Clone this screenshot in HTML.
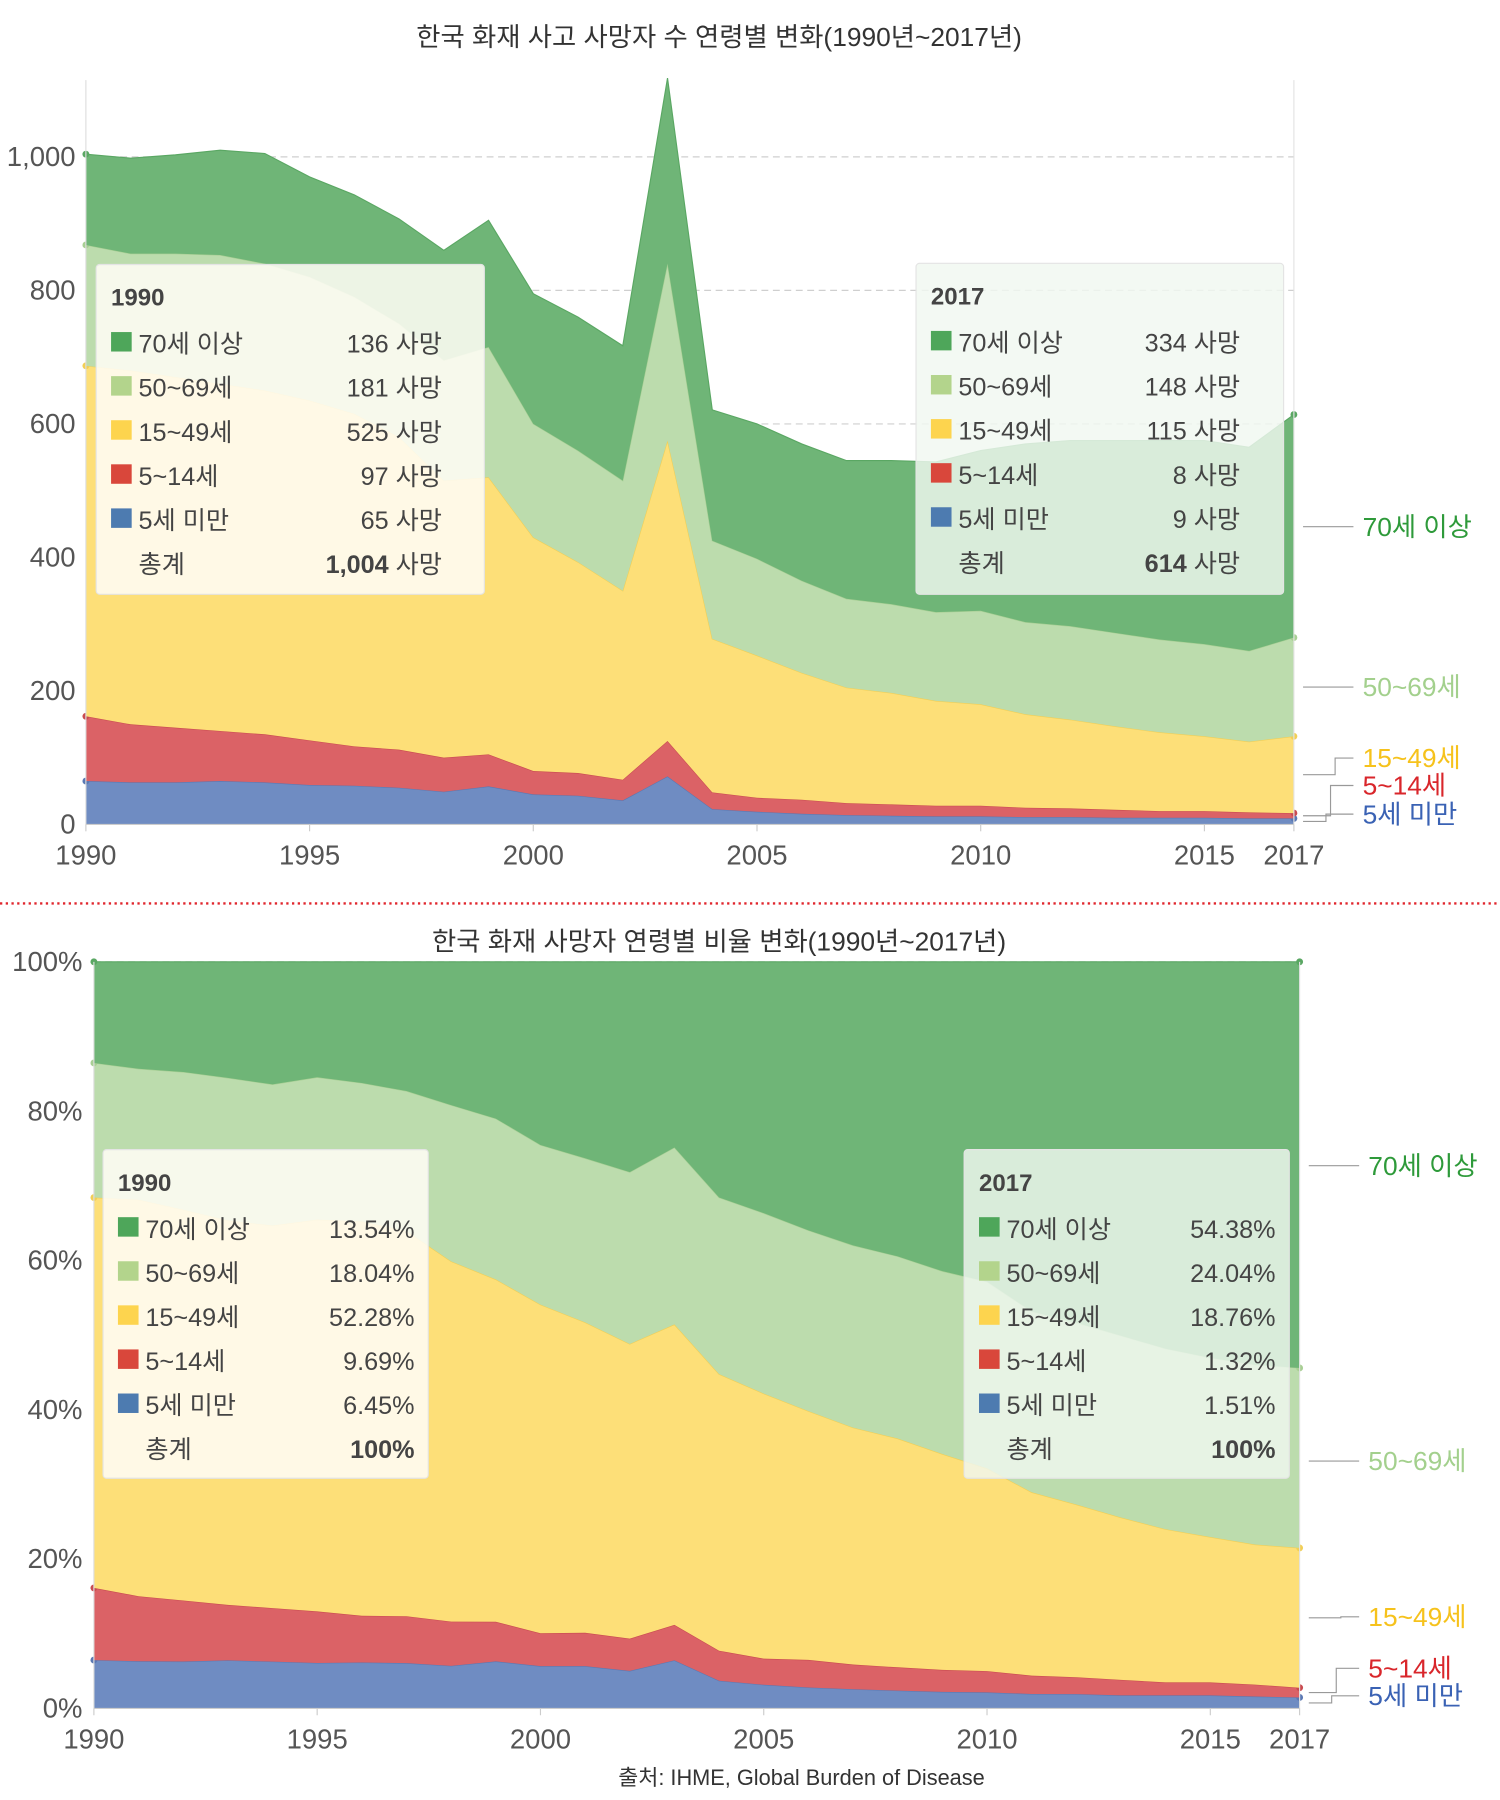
<!DOCTYPE html>
<html><head><meta charset="utf-8">
<style>
html,body{margin:0;padding:0;background:#fff;}
svg{display:block;font-family:"Liberation Sans","Noto Sans CJK KR",sans-serif;}
</style></head>
<body>
<svg id="chart" width="1500" height="1800" viewBox="0 0 1310 1572" xmlns="http://www.w3.org/2000/svg"></svg>
<script>
const years = [1990,1991,1992,1993,1994,1995,1996,1997,1998,1999,2000,2001,2002,2003,2004,2005,2006,2007,2008,2009,2010,2011,2012,2013,2014,2015,2016,2017];
const under5 = [65,63,63,65,63,59,58,55,49,57,45,43,36,72,23,19,16,14,13,12,12,11,11,10,10,10,9,9];
const age5to14 = [97,87,82,75,72,67,59,57,51,48,35,34,31,53,25,21,21,18,17,16,16,14,13,12,10,10,9,8];
const age15to49 = [525,530,525,520,515,509,498,468,415,415,350,316,283,450,230,213,190,173,167,157,152,140,133,125,118,112,106,115];
const age50to69 = [181,175,185,193,190,185,175,170,180,195,170,167,165,265,147,145,138,133,133,133,140,138,140,140,139,138,136,148];
const age70plus = [136,143,148,157,165,150,153,157,165,190,195,200,202,278,196,202,205,207,215,225,240,267,278,288,298,305,305,334];
const seriesNames = ["5세 미만","5~14세","15~49세","50~69세","70세 이상"];
const countTicks = [0,200,400,600,800,1000];
const countTickLabels = ["0","200","400","600","800","1,000"];
const pctTicks = [0,20,40,60,80,100];
const xTickYears = [1990,1995,2000,2005,2010,2015,2017];

const NS="http://www.w3.org/2000/svg";
const svg=document.getElementById('chart');
function mk(tag,attrs,parent){const e=document.createElementNS(NS,tag);for(const k in attrs)e.setAttribute(k,attrs[k]);(parent||svg).appendChild(e);return e;}
function txt(s,attrs,parent){const e=mk('text',attrs,parent);e.textContent=s;return e;}

const fills=["#6f8cc2","#db6266","#fddf78","#bcdcad","#6fb577"];
const strokes=["#5a78b3","#c94b50","#f2cf55","#a8cf94","#5aa763"];
const labelColors=["#3a62b4","#d9262b","#f6c21c","#a3d08d","#2e9a3a"];
const series=[under5,age5to14,age15to49,age50to69,age70plus];

function drawChart(cfg){
  const g=mk('g',{});
  
  
  const xs=y=>cfg.x0+(y-1990)/(2017-1990)*(cfg.x1-cfg.x0);
  const ys=v=>cfg.y0-(v/cfg.vmax)*(cfg.y0-cfg.ytop);
  const n=years.length;
  const stacks=[];let base=new Array(n).fill(0);
  for(let s=0;s<5;s++){
    const top=[];
    for(let i=0;i<n;i++){
      let v=series[s][i];
      if(cfg.pct){let t=0;for(let k=0;k<5;k++)t+=series[k][i];v=v/t*100;}
      top.push(base[i]+v);
    }
    stacks.push({lo:base.slice(),hi:top});base=top;
  }
  cfg.ticks.forEach((t,i)=>{
    if(t>0){const l=mk('line',{x1:cfg.x0,x2:cfg.x1,y1:ys(t),y2:ys(t),stroke:"#cfcfcf","stroke-dasharray":"6,4","stroke-width":1},g);
    }
    const tl=txt(cfg.tickLabels[i],{x:cfg.labelX,y:ys(t)+8,"text-anchor":"end","font-size":24,fill:"#555"},g);
    
  });
  stacks.forEach((st,s)=>{
    let d="M"+xs(years[0])+","+ys(st.hi[0]);
    for(let i=1;i<n;i++)d+="L"+xs(years[i])+","+ys(st.hi[i]);
    for(let i=n-1;i>=0;i--)d+="L"+xs(years[i])+","+ys(st.lo[i]);
    d+="Z";
    const p=mk('path',{d:d,fill:fills[s],stroke:"none"},g);
    
    let ld="M"+xs(years[0])+","+ys(st.hi[0]);
    for(let i=1;i<n;i++)ld+="L"+xs(years[i])+","+ys(st.hi[i]);
    mk('path',{d:ld,fill:"none",stroke:strokes[s],"stroke-width":1},g);
    [0,n-1].forEach(i=>{const c=mk('circle',{cx:xs(years[i]),cy:ys(st.hi[i]),r:3,fill:strokes[s]},g);
      });
  });
  mk('line',{x1:cfg.x0,x2:cfg.x0,y1:cfg.axisTop,y2:cfg.y0,stroke:"#ddd"},g);
  mk('line',{x1:cfg.x1,x2:cfg.x1,y1:cfg.axisTop,y2:cfg.y0,stroke:"#e2e2e2"},g);
  mk('line',{x1:cfg.x0,x2:cfg.x1,y1:cfg.y0,y2:cfg.y0,stroke:"#ccc"},g);
  xTickYears.forEach(yr=>{
    mk('line',{x1:xs(yr),x2:xs(yr),y1:cfg.y0,y2:cfg.y0+6,stroke:"#ccc"},g);
    const t=txt(String(yr),{x:xs(yr),y:cfg.y0+35,"text-anchor":"middle","font-size":24,fill:"#555"},g);
    
  });
  cfg.rlabels.forEach((ly,s)=>{
    const endY=ys((stacks[s].hi[n-1]+stacks[s].lo[n-1])/2);
    const lx=cfg.x1+8;
    let d;
    if(s>=3)d=`M${lx},${ly}L${cfg.x1+52},${ly}`;
    else d=`M${lx},${endY}L${lx+20+s*4},${endY}L${lx+20+s*4},${ly}L${cfg.x1+52},${ly}`;
    mk('path',{d:d,fill:"none",stroke:"#999","stroke-width":1},g);
    const t=txt(seriesNames[s],{x:cfg.x1+60,y:ly+8,"font-size":23,fill:labelColors[s]},g);
    
  });
  return {g,stacks};
}

const c1=drawChart({name:'death-count-chart',x0:75,x1:1130,y0:720,ytop:137,vmax:1000,pct:false,ticks:countTicks,tickLabels:countTickLabels,labelX:66,axisTop:70,rlabels:[711,686,662,600,460]});
const c2=drawChart({name:'death-share-chart',x0:82,x1:1135,y0:1492,ytop:840,vmax:100,pct:true,ticks:pctTicks,tickLabels:pctTicks.map(t=>t+"%"),labelX:72,axisTop:840,rlabels:[1481,1457,1412,1276,1018]});

function legend(x,y,w,h,title,rows,total,bg,valX,name){
  const g=mk('g',{});
  
  
  mk('rect',{x:x,y:y,width:w,height:h,rx:3,fill:bg,stroke:"#e4e4e4"},g);
  txt(title,{x:x+13,y:y+36,"font-size":21,"font-weight":"bold",fill:"#444"},g);
  const order=[4,3,2,1,0];
  order.forEach((s,i)=>{
    const yy=y+69+i*38.5;
    mk('rect',{x:x+13,y:yy-10,width:18,height:17,fill:[ "#4d7bb0","#d9473b","#fdd44e","#b3d48c","#4ea65a"][s]},g);
    txt(seriesNames[s],{x:x+37,y:yy+8,"font-size":22,fill:"#444"},g);
    txt(rows[i],{x:valX,y:yy+8,"font-size":22,fill:"#444","text-anchor":"end"},g);
  });
  const ty=y+69+5*38.5;
  txt("총계",{x:x+37,y:ty+8,"font-size":22,fill:"#444"},g);
  const t=txt("",{x:valX,y:ty+8,"font-size":22,fill:"#444","text-anchor":"end"},g);
  const b=mk('tspan',{"font-weight":"bold"},t);b.textContent=total[0];
  const r=mk('tspan',{},t);r.textContent=total[1];
}
function counts(i){return [age70plus[i],age50to69[i],age15to49[i],age5to14[i],under5[i]].map(v=>v+" 사망");}
const tot0=under5[0]+age5to14[0]+age15to49[0]+age50to69[0]+age70plus[0];
const n=years.length-1;
const totN=under5[n]+age5to14[n]+age15to49[n]+age50to69[n]+age70plus[n];
legend(84,231,339,288,"1990",counts(0),[tot0.toLocaleString('en-US')," 사망"],"rgba(255,253,245,0.88)",386,'legend-1990-count');
legend(800,230,321,289,"2017",counts(n),[String(totN)," 사망"],"rgba(240,248,240,0.82)",1083,'legend-2017-count');
legend(90,1004,284,287,"1990",["13.54%","18.04%","52.28%","9.69%","6.45%"],["100%",""],"rgba(255,253,245,0.88)",362,'legend-1990-share');
legend(842,1004,284,287,"2017",["54.38%","24.04%","18.76%","1.32%","1.51%"],["100%",""],"rgba(240,248,240,0.82)",1114,'legend-2017-share');

const t1=txt("한국 화재 사고 사망자 수 연령별 변화(1990년~2017년)",{x:628,y:40,"text-anchor":"middle","font-size":23,fill:"#333"});

const t2=txt("한국 화재 사망자 연령별 비율 변화(1990년~2017년)",{x:628,y:830,"text-anchor":"middle","font-size":23,fill:"#333"});

const sep=mk('line',{x1:0,x2:1310,y1:789,y2:789,stroke:"#e0262d","stroke-width":2,"stroke-dasharray":"2,3"});

const src=txt("출처: IHME, Global Burden of Disease",{x:700,y:1559,"text-anchor":"middle","font-size":19,fill:"#333"});

</script>
</body></html>
